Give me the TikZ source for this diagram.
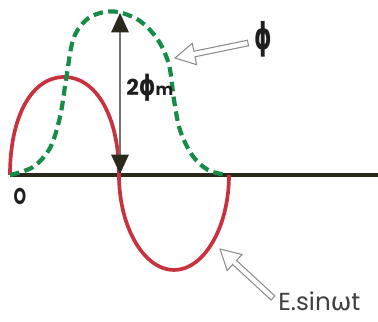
\documentclass[tikz,border=0pt]{standalone}
\usepackage{fontspec}
\setmainfont{Poppins}
\newfontfamily\greekfont{DejaVu Sans}
\usetikzlibrary{arrows.meta,calc}

\definecolor{emfred}{HTML}{C8323F}
\definecolor{fluxgreen}{HTML}{168C48}
\definecolor{axisdark}{HTML}{2A2A1C}
\definecolor{hollowgray}{HTML}{8C8C8C}
\definecolor{inkdark}{HTML}{1E1E1E}

\begin{document}
\begin{tikzpicture}[x=0.02cm,y=-0.02cm,
  axisline/.style={draw=axisdark,line width=2.2pt},
  emfcurve/.style={draw=emfred,line width=2.1pt},
  fluxcurve/.style={draw=fluxgreen,line width=2.4pt,dash pattern=on 5.5pt off 3pt},
  ampline/.style={draw=black!55,line width=0.6pt,
    {Triangle[length=11pt,width=10pt,color=axisdark]}-{Triangle[length=11pt,width=10pt,color=axisdark]}},
  hollow/.style={draw=hollowgray,line width=0.6pt,fill=white,line join=miter},
  lbl/.style={inner sep=0pt,text=inkdark}]
  \useasboundingbox (0,0) rectangle (378,321);

  \coordinate (origin) at (10,175);
  \coordinate (axisend) at (378,175);
  \coordinate (peak) at (120,13);
  \coordinate (zero) at (120,174);
  \coordinate (phitip) at (175,58);
  \coordinate (phitail) at (248,43);
  \coordinate (emftip) at (220,249);
  \coordinate (emftail) at (273,298);

  \draw[axisline] (origin) -- (axisend);
  \draw[emfcurve] (origin) .. controls (10,116) and (32,77) .. (64,77)
    .. controls (96,77) and (119,116) .. (119,175)
    .. controls (119,227) and (144,270) .. (174,270)
    .. controls (204,270) and (229,227) .. (229,175);
  \draw[fluxcurve] plot[smooth,tension=0.55] coordinates {(10,175) (33,167) (50,148) (60,117) (66,80) (73,40) (85,21) (100,13) (118,12) (140,21) (158,40) (169,65) (174,100) (180,130) (192,155) (208,170) (227,175)};
  \draw[ampline] (peak) -- (zero);

  \draw[hollow] (phitip) -- ($(phitip)!12.9pt!28.8:(phitail)$) -- ($(phitip)!11.4pt!8.1:(phitail)$)
    -- ($(phitail)!1.6pt!-90:(phitip)$) -- ($(phitail)!1.6pt!90:(phitip)$)
    -- ($(phitip)!11.4pt!-8.1:(phitail)$) -- ($(phitip)!12.9pt!-28.8:(phitail)$) -- cycle;
  \draw[hollow] (emftip) -- ($(emftip)!12.9pt!28.8:(emftail)$) -- ($(emftip)!11.4pt!8.1:(emftail)$)
    -- ($(emftail)!1.6pt!-90:(emftip)$) -- ($(emftail)!1.6pt!90:(emftip)$)
    -- ($(emftip)!11.4pt!-8.1:(emftail)$) -- ($(emftip)!12.9pt!-28.8:(emftail)$) -- cycle;

  \node[lbl,font=\bfseries\fontsize{13}{13}\selectfont] (olabel) at (20,196) {\scalebox{0.7}[1]{O}};
  \node[lbl,anchor=base west] (twophi) at (126,95) {\fontsize{12.5}{12.5}\selectfont\bfseries 2{\greekfont\fontsize{16}{16}\selectfont\scalebox{0.75}[1]{ϕ}}{\fontsize{9.5}{9.5}\selectfont m}};
  \node[lbl,font=\greekfont\bfseries\fontsize{21}{21}\selectfont] (philabel) at (263,39) {\scalebox{0.6}[1]{ϕ}};
  \node[lbl,anchor=base west,text=black!75,font=\fontsize{14}{14}\selectfont] (emflabel) at (278,310) {E.sin{\greekfont ω}t};
\end{tikzpicture}
\end{document}
